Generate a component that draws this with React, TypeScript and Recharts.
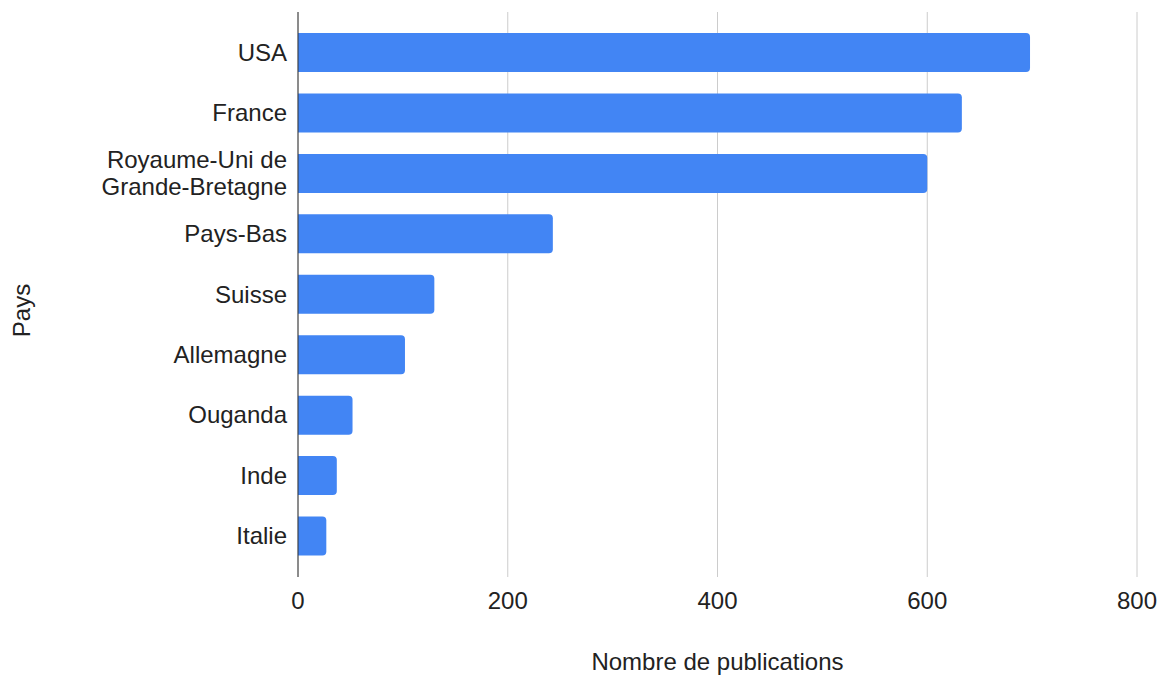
import React from 'react';
import { BarChart, Bar, XAxis, YAxis, CartesianGrid } from 'recharts';

const countries = [
  'USA',
  'France',
  'Royaume-Uni de Grande-Bretagne',
  'Pays-Bas',
  'Suisse',
  'Allemagne',
  'Ouganda',
  'Inde',
  'Italie',
];
const publications = [698, 633, 600, 243, 130, 102, 52, 37, 27];
const xTicks = [0, 200, 400, 600, 800];

const data = countries.map((name, i) => ({ name, value: publications[i] }));

const FONT = 'Arial, "Liberation Sans", sans-serif';
const TEXT = '#222222';
const FS = 24;

// wrap long category names on word boundaries, like the original does
const wrap = (s: string, max = 16) => {
  const lines: string[] = [];
  let cur = '';
  s.split(' ').forEach((w) => {
    if (cur && (cur + ' ' + w).length > max) {
      lines.push(cur);
      cur = w;
    } else {
      cur = cur ? cur + ' ' + w : w;
    }
  });
  if (cur) lines.push(cur);
  return lines;
};

const CountryTick = (props: any) => {
  const { x, y, payload } = props;
  const lines = wrap(String(payload.value));
  const lh = 27;
  const start = -((lines.length - 1) * lh) / 2;
  return (
    <text x={x} y={y} textAnchor="end" fill={TEXT} fontSize={FS} fontFamily={FONT}>
      {lines.map((l, i) => (
        <tspan key={i} x={x} dy={i === 0 ? start + 8.5 : lh}>
          {l}
        </tspan>
      ))}
    </text>
  );
};

const PaysLabel = (props: any) => {
  const vb = props.viewBox || { y: 0, height: 0 };
  const cx = 30;
  const cy = vb.y + vb.height / 2 + 16;
  return (
    <text
      x={cx}
      y={cy}
      transform={`rotate(-90, ${cx}, ${cy})`}
      textAnchor="middle"
      fill={TEXT}
      fontSize={FS}
      fontFamily={FONT}
    >
      Pays
    </text>
  );
};

export default function App() {
  return (
    <div style={{ position: 'absolute', left: 0, top: 0, background: '#fff' }}>
      <BarChart
        width={1161}
        height={678}
        data={data}
        layout="vertical"
        margin={{ top: 12, right: 24, left: 0, bottom: 0 }}
      >
        <CartesianGrid horizontal={false} stroke="#cccccc" />
        <XAxis
          type="number"
          domain={[0, 800]}
          ticks={xTicks}
          height={101}
          axisLine={false}
          tickLine={false}
          tickSize={0}
          tickMargin={15}
          tick={{ fontSize: FS, fill: TEXT, fontFamily: FONT }}
          label={{
            value: 'Nombre de publications',
            position: 'insideBottom',
            offset: 8,
            fontSize: FS,
            fill: TEXT,
            fontFamily: FONT,
          }}
        />
        <YAxis
          type="category"
          dataKey="name"
          width={298}
          padding={{ top: 10, bottom: 11 }}
          axisLine={{ stroke: '#333333', strokeWidth: 1 }}
          tickLine={false}
          tickSize={0}
          tickMargin={11}
          interval={0}
          tick={<CountryTick />}
          label={PaysLabel}
        />
        <Bar
          dataKey="value"
          fill="#4285F4"
          barSize={39}
          radius={[0, 4, 4, 0]}
          isAnimationActive={false}
        />
      </BarChart>
    </div>
  );
}
